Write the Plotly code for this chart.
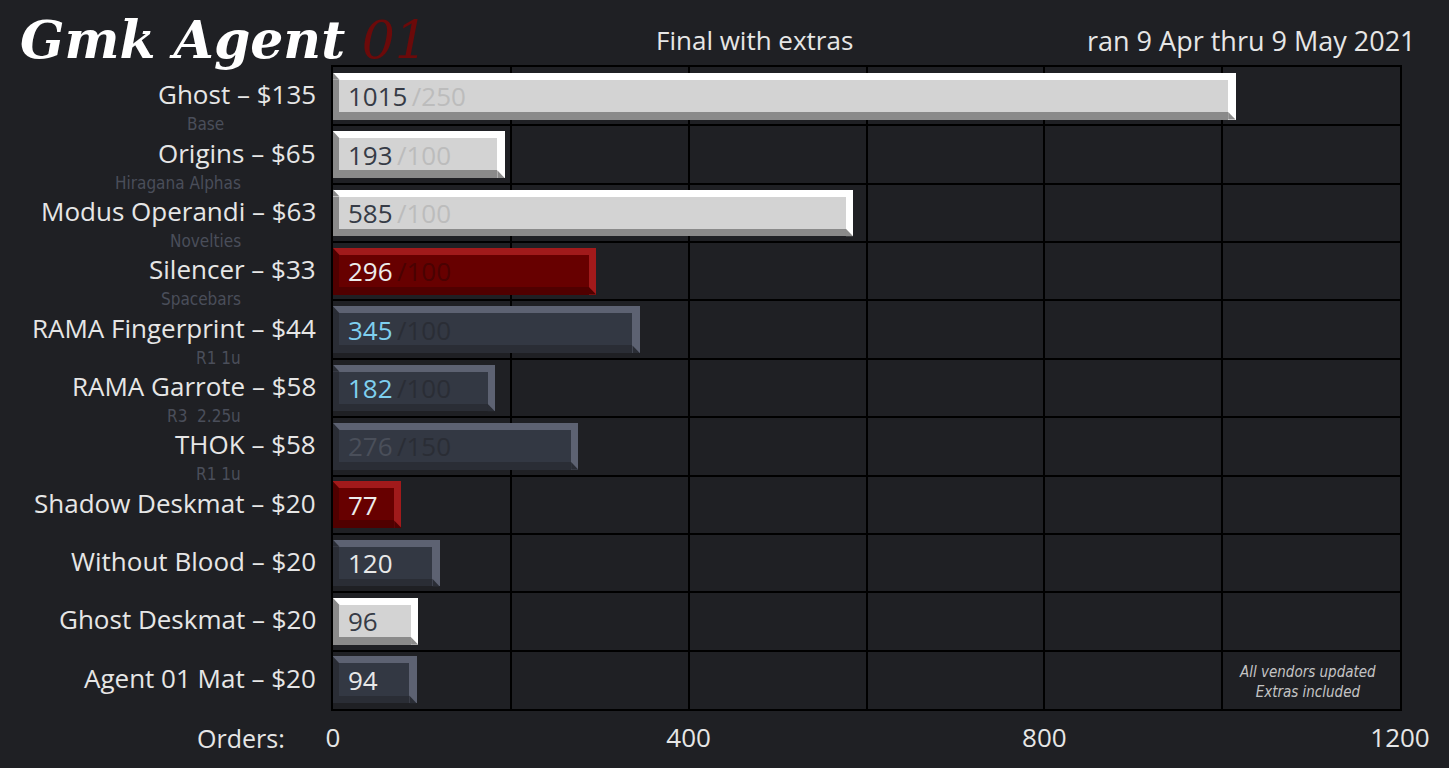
import plotly.graph_objects as go

# ---------------- data ----------------
products = ["Ghost – $135", "Origins – $65", "Modus Operandi – $63", "Silencer – $33",
            "RAMA Fingerprint – $44", "RAMA Garrote – $58", "THOK – $58",
            "Shadow Deskmat – $20", "Without Blood – $20", "Ghost Deskmat – $20",
            "Agent 01 Mat – $20"]
subtitles = ["Base", "Hiragana Alphas", "Novelties", "Spacebars", "R1 1u", "R3  2.25u",
             "R1 1u", "", "", "", ""]
orders = [1015, 193, 585, 296, 345, 182, 276, 77, 120, 96, 94]
moq = [250, 100, 100, 100, 100, 100, 150, None, None, None, None]
x_ticks = [0, 200, 400, 600, 800, 1000, 1200]
x_tick_text = ["0", "", "400", "", "800", "", "1200"]

# ---------------- styles ----------------
kind = ["white", "white", "white", "red", "slate", "slate", "slate",
        "red", "slate", "white", "slate"]
num_color_override = [None, None, None, None, "#7fd0ef", "#7fd0ef", "#4a4f5a",
                      None, None, None, None]
sub_shift = [-107, -90, -90, -90, -90, -90, -90, -90, -90, -90, -90]
palette = {
    "white": dict(light="#ffffff", dark="#8a8a8a", face="#d3d3d3", num="#363b46", sub="#bcbcbc"),
    "red":   dict(light="#a11a1b", dark="#500000", face="#670000", num="#ececec", sub="#4a0202"),
    "slate": dict(light="#5d6272", dark="#2a2d35", face="#333843", num="#e8e8e8", sub="#2a2d35"),
}
BG = "#1f2024"
MAIN_FONT = "Open Sans, sans-serif"
NARROW_FONT = "DejaVu Sans Condensed, Roboto Condensed, Liberation Sans Narrow, sans-serif"

n = len(orders)
ypos = list(range(n))
HALF = 0.4          # half bar thickness (category units)
T = 0.12            # top bevel (category units)
B = 0.13            # bottom bevel
L = 7.3             # left bevel (value units)
R = 8.2             # right bevel

light = [palette[k]["light"] for k in kind]
dark = [palette[k]["dark"] for k in kind]
face = [palette[k]["face"] for k in kind]

fig = go.Figure()
fig.add_trace(go.Bar(orientation="h", y=ypos, x=orders, base=0,
                     width=2 * HALF, offset=-HALF,
                     marker=dict(color=light, line=dict(width=0)), hoverinfo="skip"))
fig.add_trace(go.Bar(orientation="h", y=ypos, x=[v - R for v in orders], base=0,
                     width=2 * HALF - T, offset=-HALF + T,
                     marker=dict(color=dark, line=dict(width=0)), hoverinfo="skip"))
fig.add_trace(go.Bar(orientation="h", y=ypos, x=[v - R - L for v in orders], base=L,
                     width=2 * HALF - T - B, offset=-HALF + T,
                     marker=dict(color=face, line=dict(width=0)), hoverinfo="skip"))

shapes = []
for i, v in enumerate(orders):
    top = i - HALF
    bot = i + HALF
    shapes.append(dict(type="path", xref="x", yref="y", layer="above",
                       path=f"M 0 {top} L 0 {top + T} L {L} {top + T} Z",
                       fillcolor=dark[i], line=dict(width=0)))
    shapes.append(dict(type="path", xref="x", yref="y", layer="above",
                       path=f"M {v - R} {bot - B} L {v} {bot} L {v - R} {bot} Z",
                       fillcolor=dark[i], line=dict(width=0)))

annotations = []
for i, v in enumerate(orders):
    p = palette[kind[i]]
    nc = num_color_override[i] or p["num"]
    txt = f"<span style='color:{nc}'>{v}</span>"
    if moq[i] is not None:
        txt += f"<span style='color:{p['sub']}'>\u2009/{moq[i]}</span>"
    annotations.append(dict(x=0, y=i, xref="x", yref="y", text=txt, showarrow=False,
                            xanchor="left", yanchor="middle", xshift=13, yshift=0,
                            font=dict(family=MAIN_FONT, size=26)))
    annotations.append(dict(x=0, y=i, xref="paper", yref="y", text=products[i],
                            showarrow=False, xanchor="right", yanchor="middle",
                            xshift=-15, yshift=2,
                            font=dict(family=MAIN_FONT, size=26, color="#e6e6e6")))
    if subtitles[i]:
        annotations.append(dict(x=0, y=i, xref="paper", yref="y", text=subtitles[i],
                                showarrow=False, xanchor="right", yanchor="middle",
                                xshift=sub_shift[i], yshift=-28,
                                font=dict(family=NARROW_FONT, size=17, color="#4a4e5a")))

annotations += [
    dict(x=0, y=0, xref="paper", yref="paper", text="Orders:", showarrow=False,
         xanchor="right", yanchor="middle", xshift=-46, yshift=-29,
         font=dict(family=MAIN_FONT, size=25, color="#e6e6e6")),
    dict(x=1, y=0, xref="paper", yref="paper",
         text="<i>All vendors updated</i><br><i>Extras included</i>", showarrow=False,
         xanchor="center", yanchor="bottom", xshift=-93, yshift=6,
         font=dict(family=NARROW_FONT, size=15, color="#c4c4c4")),
    dict(x=0.3946, y=1, xref="paper", yref="paper", text="Final with extras",
         showarrow=False, xanchor="center", yanchor="middle", yshift=27,
         font=dict(family="Open Sans", size=26, color="#e6e6e6")),
    dict(x=1, y=1, xref="paper", yref="paper", text="ran 9 Apr thru 9 May 2021",
         showarrow=False, xanchor="right", yanchor="middle", xshift=18, yshift=27,
         font=dict(family="Open Sans", size=27, color="#e6e6e6")),
    dict(x=0, y=1, xref="paper", yref="paper",
         text="<b><i>Gmk Agent</i></b> <span style='color:#6b0a0a'><i>01</i></span>",
         showarrow=False, xanchor="left", yanchor="middle", xshift=-315, yshift=28,
         font=dict(family="DejaVu Serif", size=52, color="#ffffff")),
]

fig.update_layout(
    width=1449, height=768,
    margin=dict(l=333, r=49, t=67, b=59, autoexpand=False),
    paper_bgcolor=BG, plot_bgcolor=BG,
    barmode="overlay", bargap=0, showlegend=False,
    shapes=shapes, annotations=annotations,
    xaxis=dict(range=[0, 1200], tickvals=x_ticks, ticktext=x_tick_text,
               showgrid=True, gridcolor="#000000", gridwidth=1.5, zeroline=False,
               showline=True, linecolor="#000000", linewidth=2, mirror=True,
               ticks="", ticklabelstandoff=5, automargin=False,
               tickfont=dict(family=MAIN_FONT, size=26, color="#e6e6e6")),
    yaxis=dict(range=[n - 0.5, -0.5], tickvals=[i + 0.5 for i in range(n - 1)],
               showticklabels=False, showgrid=True, gridcolor="#000000", gridwidth=1.5,
               zeroline=False, showline=True, linecolor="#000000", linewidth=2, mirror=True,
               automargin=False),
)

fig.write_html("out.html")
